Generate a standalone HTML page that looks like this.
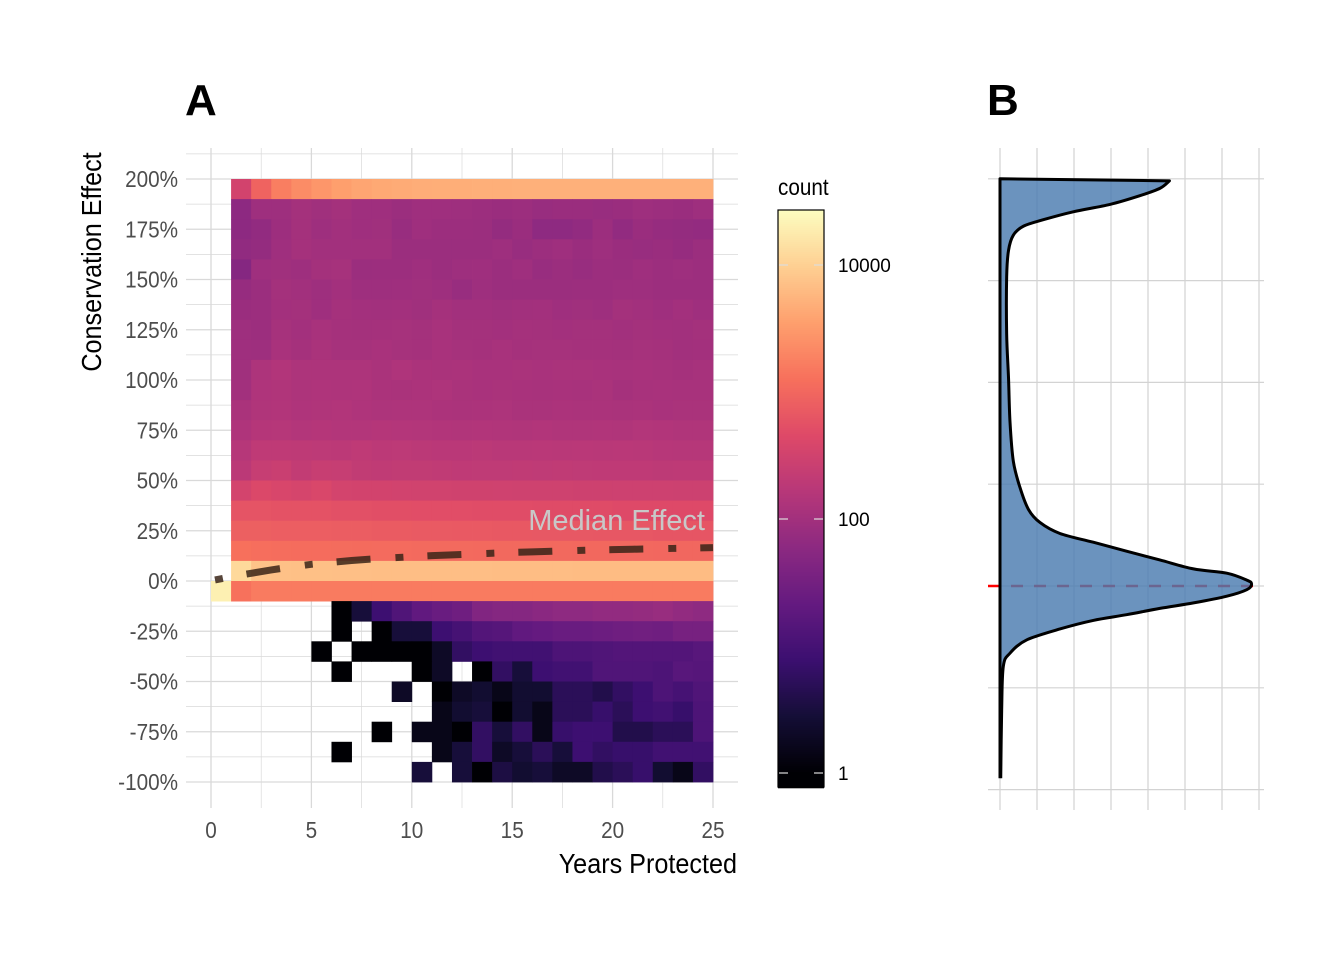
<!DOCTYPE html>
<html><head><meta charset="utf-8">
<style>
html,body{margin:0;padding:0;background:#fff;}
svg{display:block;}
text{font-family:"Liberation Sans Narrow","Liberation Sans",sans-serif;}
</style></head>
<body>
<svg id="chart" width="1344" height="960" viewBox="0 0 1344 960" xmlns="http://www.w3.org/2000/svg">
<rect width="1344" height="960" fill="#fff"/>
<g id="gridA"></g>
<g id="tiles"></g>
<g id="median"></g>
<g id="axesA"></g>
<g id="legend"></g>
<g id="panelB"></g>
<text x="185" y="115" font-size="44" font-weight="bold" fill="#000">A</text>
<text x="987" y="115" font-size="44" font-weight="bold" fill="#000">B</text>
<text transform="translate(101,262) rotate(-90) scale(0.9,1)" text-anchor="middle" font-size="28" fill="#000">Conservation Effect</text>
<text transform="translate(737,873) scale(0.9,1)" text-anchor="end" font-size="28" fill="#000">Years Protected</text>
<text x="705" y="530" text-anchor="end" font-size="29" fill="#c8c8c8">Median Effect</text>
</svg>
<script>
// ---- Panel A data ----
const yearCats = [0,1,2,3,4,5,6,7,8,9,10,11,12,13,14,15,16,17,18,19,20,21,22,23,24];
const effectBins = [190,180,170,160,150,140,130,120,110,100,90,80,70,60,50,40,30,20,10,0,-10,-20,-30,-40,-50,-60,-70,-80,-90,-100];
const _ = null;
const counts = [
[_,330,900,1700,2300,2900,3500,4000,4300,4500,4700,4800,4800,4900,4900,5000,5000,5000,5000,5000,5000,5000,5000,5000,5000],
[_,60,90,90,105,95,105,92,92,85,92,92,90,86,82,86,78,82,82,78,82,90,86,82,90],
[_,60,68,88,105,90,100,92,96,78,92,86,86,84,72,82,62,62,68,86,68,82,75,72,70],
[_,66,72,92,108,100,100,100,100,84,84,84,84,84,90,78,86,92,82,90,82,78,82,75,84],
[_,50,92,96,90,105,110,84,86,86,92,84,90,92,84,92,78,84,78,86,84,92,86,90,86],
[_,75,84,105,100,90,102,90,90,92,96,90,78,90,84,84,84,84,86,86,90,90,86,86,86],
[_,82,86,102,105,92,108,102,100,102,96,108,100,100,96,100,102,92,96,90,105,100,92,102,92],
[_,90,86,110,102,115,108,105,108,110,105,115,105,105,102,108,105,102,105,105,100,105,102,100,105],
[_,92,90,118,108,120,110,110,118,110,108,118,110,108,115,108,110,110,108,108,105,110,108,100,102],
[_,96,130,145,130,130,130,130,120,135,122,120,122,118,118,120,118,120,120,118,115,118,112,108,112],
[_,100,135,140,130,135,132,135,122,120,126,132,120,118,120,118,115,118,115,120,108,115,118,115,115],
[_,120,140,145,135,140,145,135,130,132,132,126,122,126,130,120,120,126,122,122,120,122,118,120,120],
[_,135,155,160,150,155,150,150,155,152,150,146,142,146,142,140,146,140,140,142,140,150,146,140,140],
[_,160,200,200,195,190,185,200,185,190,180,178,178,180,175,175,178,172,178,175,178,172,165,160,160],
[_,180,240,260,220,250,240,215,205,215,215,205,200,202,202,205,202,205,202,200,200,200,192,195,195],
[_,340,420,390,360,400,340,330,330,320,318,315,310,310,305,300,300,298,295,295,290,288,288,285,282],
[_,600,600,570,570,580,540,540,520,520,510,510,510,490,490,490,480,480,480,480,460,460,460,460,460],
[_,820,820,790,790,790,760,760,730,730,710,710,700,700,680,680,665,665,665,650,650,650,630,630,630],
[_,1250,1200,1180,1150,1150,1130,1120,1100,1100,1080,1080,1070,1060,1050,1050,1040,1040,1030,1030,1020,1020,1010,1000,1000],
[_,12000,7500,7200,7000,7000,6900,6900,6800,6800,6800,6700,6700,6700,6600,6600,6600,6600,6500,6500,6500,6500,6500,6500,6500],
[20000,1300,1600,1600,1600,1600,1600,1600,1600,1600,1600,1600,1600,1600,1600,1600,1600,1600,1600,1600,1600,1600,1600,1600,1600],
[_,_,_,_,_,_,1,3,8,13,20,24,28,45,50,50,56,62,62,68,68,72,78,68,62],
[_,_,_,_,_,_,1,_,1,3,3,8,10,14,15,20,22,24,24,26,28,30,28,35,35],
[_,_,_,_,_,1,_,1,1,1,1,2,6,8,9,9,9,12,12,13,14,14,14,14,16],
[_,_,_,_,_,_,1,_,_,_,1,2,_,1,6,3,8,9,9,13,13,13,12,16,15],
[_,_,_,_,_,_,_,_,_,2,_,1,2,2.5,1.5,2.5,2.5,5,5,4,6,8,12,10,13],
[_,_,_,_,_,_,_,_,_,_,_,1.5,2.5,3,1,2.5,1.5,5,5,7,5,8,9,7,12],
[_,_,_,_,_,_,_,_,1,_,1.5,1.5,1,6,3,6,1.5,7,8,8,4,4,5,5,12],
[_,_,_,_,_,_,1,_,_,_,_,1.5,3,6,2,3,5,3,8,6,7,7,9,9,9],
[_,_,_,_,_,_,_,_,_,_,3,_,3,1,3.5,2.5,3,2,2,4,5,7,2.5,1.5,6]
];
const medianYears = [0.2,1.5,3,4,5,6,7,8,9,10,11,12,13,14,15,16,17,18,19,20,21,22,23,24,25];
const medianValues = [0.5,3,5.5,7,8.3,9.3,10.2,10.9,11.5,12.1,12.6,13,13.4,13.8,14.2,14.5,14.8,15.1,15.4,15.6,15.8,16,16.2,16.4,16.6];
const xTicks = [0,5,10,15,20,25];
const yTicks = [200,175,150,125,100,75,50,25,0,-25,-50,-75,-100];
const yTickLabels = ["200%","175%","150%","125%","100%","75%","50%","25%","0%","-25%","-50%","-75%","-100%"];
const legendTicks = [1,100,10000];
const legendTickLabels = ["1","100","10000"];
// ---- Panel B data (density, grid units) ----
const densEffect = [200,199,195.3,191.7,187.4,183.8,179.9,176.7,172.3,164.8,151.8,123.8,102.3,80.7,61.3,48.4,37.6,31.2,25.8,21.5,17.1,12.8,8.4,6.3,2.9,1,-1.8,-5,-8.3,-11,-14.1,-16.9,-21.1,-26.5,-33,-39.4,-61,-94.4];
const densValues = [0,4.58,4.32,3.78,2.97,1.98,1.17,0.63,0.36,0.23,0.18,0.18,0.23,0.27,0.36,0.54,0.77,1.08,1.62,2.52,3.42,4.32,5.23,6.13,6.67,6.80,6.67,6.13,5.23,4.32,3.42,2.52,1.62,0.72,0.27,0.09,0.045,0.02];
const medianEffectB = 0;

const NS = "http://www.w3.org/2000/svg";
function mk(tag, attrs, parent){const e=document.createElementNS(NS,tag);for(const k in attrs)e.setAttribute(k,attrs[k]);parent.appendChild(e);return e;}
const xs = v => 211 + v*20.08;
const ys = v => 581 - v*2.01;
const magma = ["#000004","#140e36","#3b0f70","#641a80","#8c2981","#b73779","#de4968","#f7705c","#fe9f6d","#fecf92","#fcfdbf"];
function hex(h){return [parseInt(h.substr(1,2),16),parseInt(h.substr(3,2),16),parseInt(h.substr(5,2),16)];}
function colorT(t){t=Math.max(0,Math.min(1,t));const p=t*10,i=Math.min(9,Math.floor(p)),f=p-i;const a=hex(magma[i]),b=hex(magma[i+1]);
return "rgb("+a.map((c,j)=>Math.round(c+(b[j]-c)*f)).join(",")+")";}
const LMAX = 4.43;
const colorC = c => colorT(Math.log10(c)/LMAX);

// grid A
const gA = document.getElementById('gridA');
for(let v=0; v<=25; v+=2.5){
  const l = mk('line',{x1:xs(v),x2:xs(v),y1:148,y2:808,stroke:'#d9d9d9','stroke-width':(v%5===0)?1.3:0.7},gA);
  
  
}
for(let v=-100; v<=212.5; v+=12.5){
  const l = mk('line',{x1:186,x2:738,y1:ys(v),y2:ys(v),stroke:'#d9d9d9','stroke-width':(v%25===0)?1.3:0.7},gA);
  
  
}
// tiles
const gT = document.getElementById('tiles');
counts.forEach((row,r)=>{
  row.forEach((c,k)=>{
    if(c===null) return;
    const y0 = ys(effectBins[r]+10), y1 = ys(effectBins[r]);
    const x0 = xs(yearCats[k]), x1 = xs(yearCats[k]+1);
    const t = mk('rect',{x:x0,y:y0,width:x1-x0+0.4,height:y1-y0+0.4,fill:colorC(c)},gT);
    
    
  });
});
// median line
const gM = document.getElementById('median');
const mp = mk('polyline',{points:medianYears.map((y,i)=>xs(y)+","+ys(medianValues[i])).join(" "),fill:'none',stroke:'#3a2418','stroke-opacity':0.85,'stroke-width':7,'stroke-dasharray':'8 24 34 25'},gM);


// axes text
const gX = document.getElementById('axesA');
xTicks.forEach(v=>{
  const t = mk('text',{transform:'translate('+xs(v)+',838) scale(0.9,1)','text-anchor':'middle','font-size':23,fill:'#4d4d4d'},gX);
  t.textContent = v;
  
  
});
yTicks.forEach((v,i)=>{
  const t = mk('text',{transform:'translate(178,'+(ys(v)+8)+') scale(0.9,1)','text-anchor':'end','font-size':23,fill:'#4d4d4d'},gX);
  t.textContent = yTickLabels[i];
  
  
});
// legend
const gL = document.getElementById('legend');
const lt = mk('text',{transform:'translate(778,195) scale(0.9,1)','font-size':23,fill:'#000'},gL);
lt.textContent='count';


const ly = v => 773 - Math.log10(v)*127;
const barTop = 210, barBot = 787;
for(let y=barTop; y<barBot; y+=2){
  const lv = (773 - (y+1))/127;
  const s = mk('rect',{x:778,y:y,width:46,height:2.3,fill:colorT(lv/LMAX)},gL);
  
  
}
const fr = mk('rect',{x:778,y:barTop,width:46,height:barBot-barTop,fill:'none',stroke:'#000','stroke-width':1.2},gL);


legendTicks.forEach((v,i)=>{
  const a = mk('line',{x1:779,x2:788,y1:ly(v),y2:ly(v),stroke:'#ddd','stroke-width':1.2},gL);
  
  
  const b = mk('line',{x1:814,x2:823,y1:ly(v),y2:ly(v),stroke:'#ddd','stroke-width':1.2},gL);
  
  
  const t = mk('text',{x:838,y:ly(v)+7,'font-size':19,fill:'#000'},gL);
  t.textContent = legendTickLabels[i];
  
  
});
// panel B
const gB = document.getElementById('panelB');
const bx = d => 1000 + d*37;
const by = v => 586 - v*2.036;
for(let i=0;i<8;i++){
  const l = mk('line',{x1:bx(i),x2:bx(i),y1:148,y2:810,stroke:'#d3d3d3','stroke-width':1.2},gB);
  
  
}
for(let v=-100; v<=200; v+=50){
  const l = mk('line',{x1:988,x2:1264,y1:by(v),y2:by(v),stroke:'#d3d3d3','stroke-width':1.2},gB);
  
  
}
const rl = mk('line',{x1:988,x2:1264,y1:by(medianEffectB),y2:by(medianEffectB),stroke:'#ff0000','stroke-width':2.5,'stroke-dasharray':'12 11'},gB);


// smooth curve through density points (Catmull-Rom), first segment straight
const P = densEffect.map((e,i)=>[bx(densValues[i]),by(e)]);
let curve = "L"+P[0][0]+","+P[0][1]+" L"+P[1][0]+","+P[1][1];
for(let i=1;i<P.length-1;i++){
  const p0=(i===1)?P[1]:P[i-1],p1=P[i],p2=P[i+1],p3=P[Math.min(P.length-1,i+2)];
  const c1=[p1[0]+(p2[0]-p0[0])/6,p1[1]+(p2[1]-p0[1])/6];
  const c2=[p2[0]-(p3[0]-p1[0])/6,p2[1]-(p3[1]-p1[1])/6];
  curve += " C"+c1.join(",")+" "+c2.join(",")+" "+p2.join(",");
}
const outline = "M"+bx(0)+","+P[P.length-1][1]+" L"+bx(0)+","+by(200)+" "+curve;
const area = mk('path',{d:outline+" Z",fill:'#4a7bb0','fill-opacity':0.82,stroke:'none'},gB);


const ol = mk('path',{d:outline,fill:'none',stroke:'#000','stroke-width':3,'stroke-linejoin':'round'},gB);


</script>
</body></html>
